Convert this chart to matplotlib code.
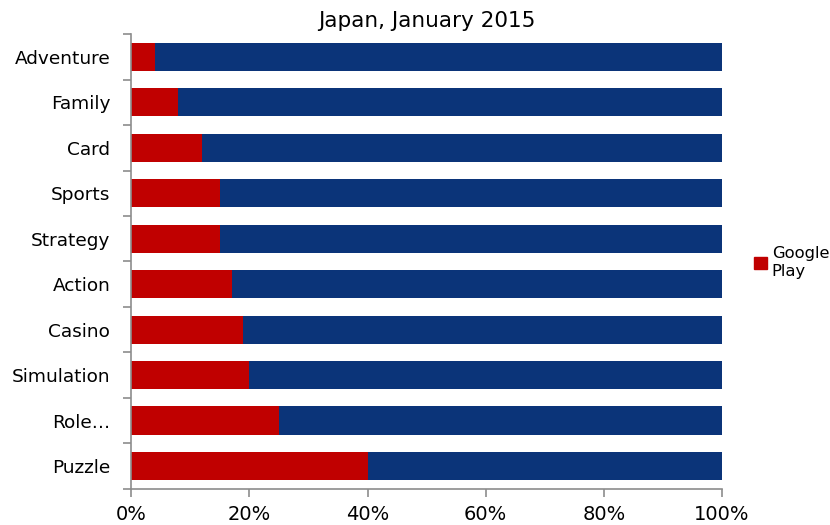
import numpy as np
import matplotlib.pyplot as plt
from matplotlib.patches import Patch

# Share of Google Play by game genre (Japan, January 2015)
categories = ["Adventure", "Family", "Card", "Sports", "Strategy",
              "Action", "Casino", "Simulation", "Role…", "Puzzle"]
google_play = [4, 8, 12, 15, 15, 17, 19, 20, 25, 40]
other = [100 - v for v in google_play]

RED = "#C00000"
BLUE = "#0B3479"
GRAY = "#8C8C8C"

fig = plt.figure(figsize=(8.3, 5.25), dpi=100)
ax = fig.add_axes([0.158, 0.069, 0.712, 0.866])

y = np.arange(len(categories))
ax.barh(y, google_play, height=0.62, color=RED, edgecolor="none")
ax.barh(y, other, left=google_play, height=0.62, color=BLUE, edgecolor="none")

ax.set_xlim(0, 100)
ax.set_ylim(len(categories) - 0.5, -0.5)
ax.set_xticks(np.arange(0, 101, 20))
ax.set_xticklabels([f"{v}%" for v in range(0, 101, 20)], fontsize=14)
ax.set_yticks(y)
ax.set_yticklabels(categories, fontsize=13.3)
ax.tick_params(axis="y", which="major", length=0, pad=15)
ax.set_yticks(np.arange(-0.5, len(categories), 1), minor=True)
ax.tick_params(axis="y", which="minor", length=6, color=GRAY, width=1.2)
ax.tick_params(axis="x", length=6, color=GRAY, width=1.2, pad=6)

for s in ["top", "right"]:
    ax.spines[s].set_visible(False)
for s in ["left", "bottom"]:
    ax.spines[s].set_color(GRAY)
    ax.spines[s].set_linewidth(1.2)

ax.set_title("Japan, January 2015", fontsize=15.5, pad=5)

leg = fig.legend(handles=[Patch(color=RED, label="Google\nPlay")],
                 loc="center left", bbox_to_anchor=(0.905, 0.5),
                 frameon=False, fontsize=11.8, handlelength=0.75,
                 handleheight=0.75, handletextpad=0.3, borderaxespad=0,
                 borderpad=0.2)

fig.savefig("out.png", dpi=100)
